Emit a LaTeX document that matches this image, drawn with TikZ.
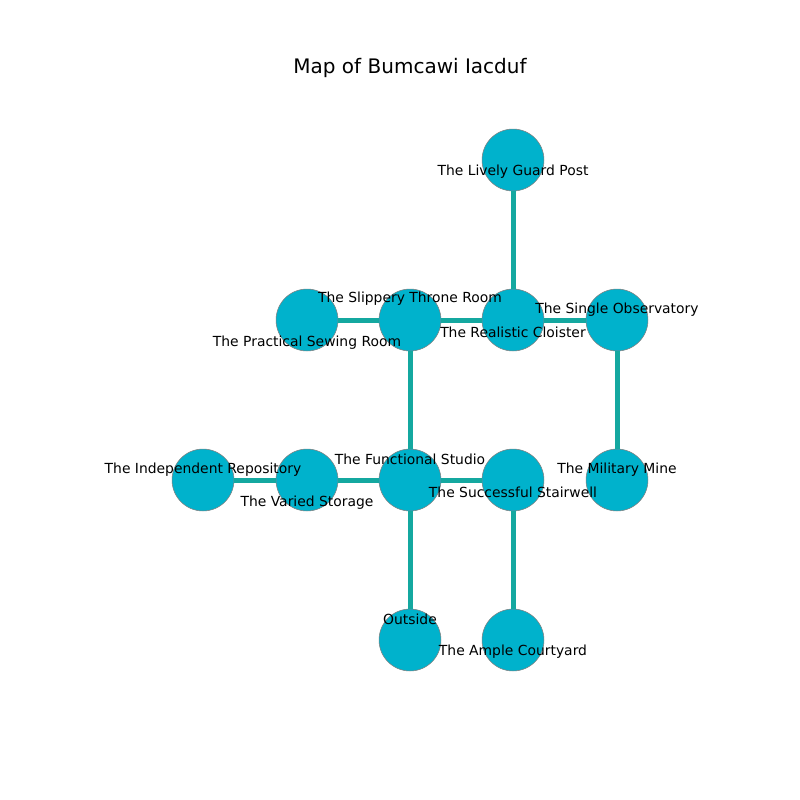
\documentclass[tikz,border=0pt]{standalone}
\usepackage{fontspec}
\setmainfont{DejaVu Sans}
\usepackage{tikz}
\usetikzlibrary{positioning,calc}
\definecolor{roomfill}{RGB}{0,178,204}
\definecolor{pathcol}{RGB}{20,168,160}
\tikzset{room/.style={circle,fill=roomfill,draw=gray,line width=0.4pt,minimum size=44.6pt,inner sep=0pt},
         corridor/.style={pathcol,line width=3.6pt},
         roomlabel/.style={font=\fontsize{10}{12}\selectfont,inner sep=0pt}}

\begin{document}
\begin{tikzpicture}[x=0.72pt,y=-0.72pt]
\useasboundingbox (0,0) rectangle (800,800);

\node[font=\fontsize{14.4}{17}\selectfont,inner sep=0pt] (title) at (410,68) {Map of Bumcawi Iacduf};

% rooms
\node[room] (guard) at (513,160) {};
\node[room] (cloister) at (513,320) {};
\node[room] (throne) at (410,320) {};
\node[room] (sewing) at (307,320) {};
\node[room] (observatory) at (617,320) {};
\node[room] (studio) at (410,480) {};
\node[room] (storage) at (307,480) {};
\node[room] (repository) at (203,480) {};
\node[room] (stairwell) at (513,480) {};
\node[room] (mine) at (617,480) {};
\node[room] (outside) at (410,640) {};
\node[room] (courtyard) at (513,640) {};

% corridors
\draw[corridor] (guard) -- (cloister);
\draw[corridor] (sewing) -- (throne);
\draw[corridor] (throne) -- (cloister);
\draw[corridor] (cloister) -- (observatory);
\draw[corridor] (throne) -- (studio);
\draw[corridor] (observatory) -- (mine);
\draw[corridor] (repository) -- (storage);
\draw[corridor] (storage) -- (studio);
\draw[corridor] (studio) -- (stairwell);
\draw[corridor] (studio) -- (outside);
\draw[corridor] (stairwell) -- (courtyard);

% labels
\node[roomlabel] (guardlbl) at (513,172) {The Lively Guard Post};
\node[roomlabel] (cloisterlbl) at (513,332) {The Realistic Cloister};
\node[roomlabel] (thronelbl) at (410,299) {The Slippery Throne Room};
\node[roomlabel] (sewinglbl) at (307,343) {The Practical Sewing Room};
\node[roomlabel] (observatorylbl) at (617,310) {The Single Observatory};
\node[roomlabel] (studiolbl) at (410,459) {The Functional Studio};
\node[roomlabel] (storagelbl) at (307,503) {The Varied Storage};
\node[roomlabel] (repositorylbl) at (203,470) {The Independent Repository};
\node[roomlabel] (stairwelllbl) at (513,492) {The Successful Stairwell};
\node[roomlabel] (minelbl) at (617,470) {The Military Mine};
\node[roomlabel] (outsidelbl) at (410,619) {Outside};
\node[roomlabel] (courtyardlbl) at (513,652) {The Ample Courtyard};

\end{tikzpicture}
\end{document}
